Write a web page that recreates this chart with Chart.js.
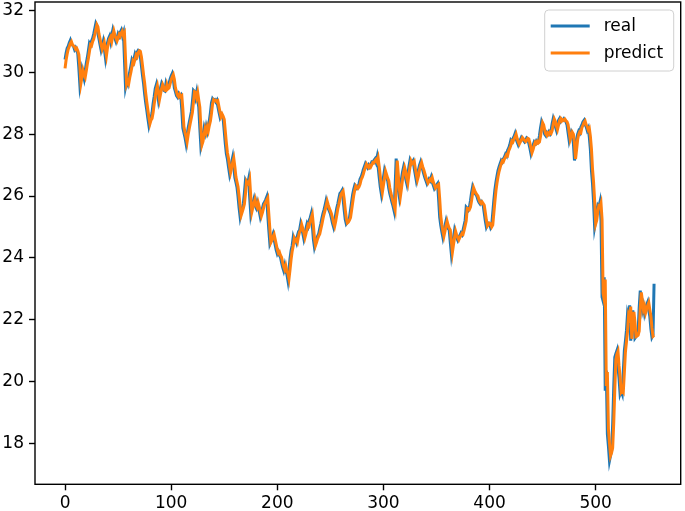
<!DOCTYPE html>
<html>
<head>
<meta charset="utf-8">
<script src="https://cdn.jsdelivr.net/npm/chart.js@4.4.1/dist/chart.umd.min.js"></script>
<style>
  body { margin: 0; background: #fff; }
  #chart { display: block; }
</style>
</head>
<body>
<canvas id="chart" width="685" height="511"></canvas>
<script>
// values, one per day
var real = [
  30.42, 30.63, 30.78, 30.85, 30.96, 31.04, 30.92, 30.88, 30.85, 30.74,
  30.80, 30.72, 30.61, 30.15, 29.59, 29.82, 30.10, 29.95, 29.80, 30.05,
  30.29, 30.48, 30.70, 30.94, 30.88, 31.02, 31.10, 31.24, 31.41, 31.58,
  31.50, 31.25, 31.08, 30.90, 30.72, 30.85, 31.00, 30.78, 30.50, 30.80,
  30.96, 31.10, 31.18, 31.00, 31.20, 31.37, 31.22, 31.10, 31.00, 31.12,
  31.25, 31.18, 31.30, 31.37, 31.20, 31.30, 30.40, 29.53, 29.70, 29.62,
  29.85, 30.02, 30.20, 30.40, 30.32, 30.45, 30.60, 30.52, 30.66, 30.72,
  30.70, 30.50, 30.21, 29.90, 29.64, 29.30, 29.02, 28.78, 28.52, 28.29,
  28.45, 28.50, 28.70, 29.00, 29.22, 29.48, 29.60, 29.35, 29.10, 29.30,
  29.50, 29.64, 29.55, 29.42, 29.40, 29.62, 29.48, 29.50, 29.65, 29.78,
  29.88, 29.96, 29.80, 29.50, 29.38, 29.25, 29.20, 29.30, 29.22, 29.26,
  28.80, 28.20, 28.05, 27.90, 27.70, 27.98, 28.20, 28.38, 28.55, 28.72,
  29.05, 29.42, 29.38, 29.20, 29.37, 29.10, 28.88, 28.20, 27.60, 27.75,
  27.98, 28.20, 28.05, 28.25, 28.10, 28.30, 28.45, 28.70, 29.02, 29.15,
  29.10, 29.12, 29.05, 29.10, 28.90, 28.72, 28.56, 28.66, 28.60, 28.50,
  28.10, 27.70, 27.37, 27.20, 26.95, 26.72, 26.90, 27.10, 27.26, 26.95,
  26.60, 26.45, 26.29, 25.98, 25.62, 25.32, 25.48, 25.60, 25.75, 26.10,
  26.50, 26.42, 26.38, 26.55, 25.95, 25.43, 25.62, 25.78, 25.91, 25.70,
  25.62, 25.80, 25.66, 25.50, 25.32, 25.45, 25.60, 25.75, 25.80, 25.88,
  25.97, 25.40, 24.90, 24.46, 24.55, 24.68, 24.78, 24.60, 24.42, 24.25,
  24.13, 24.20, 24.08, 24.02, 23.85, 23.70, 23.59, 23.75, 23.55, 23.48,
  23.27, 23.62, 23.98, 24.24, 24.40, 24.67, 24.55, 24.60, 24.50, 24.72,
  24.85, 24.90, 25.10, 24.95, 24.80, 24.62, 24.78, 24.95, 25.10, 25.02,
  25.20, 25.30, 25.43, 25.05, 24.60, 24.35, 24.48, 24.62, 24.70, 24.78,
  24.95, 25.10, 25.28, 25.43, 25.55, 25.70, 25.86, 25.72, 25.60, 25.52,
  25.43, 25.28, 25.12, 25.00, 25.18, 25.40, 25.60, 25.75, 25.92, 26.08,
  26.12, 26.18, 25.90, 25.55, 25.25, 25.10, 25.15, 25.22, 25.30, 25.55,
  25.80, 26.05, 26.22, 26.35, 26.30, 26.25, 26.30, 26.40, 26.55, 26.62,
  26.72, 26.85, 26.95, 27.05, 26.98, 26.92, 27.00, 26.94, 27.02, 27.10,
  27.08, 27.15, 27.20, 27.10, 27.26, 26.95, 26.61, 26.30, 26.08, 26.35,
  26.60, 26.83, 26.70, 26.58, 26.50, 26.25, 26.08, 25.95, 25.80, 25.68,
  25.53, 26.30, 27.21, 26.70, 26.20, 25.97, 26.25, 26.55, 26.78, 26.94,
  26.80, 26.55, 26.40, 26.70, 26.95, 27.15, 27.05, 27.10, 27.15, 26.90,
  26.70, 26.50, 26.65, 26.85, 27.00, 27.10, 26.95, 26.85, 26.72, 26.60,
  26.50, 26.40, 26.48, 26.55, 26.50, 26.61, 26.45, 26.35, 26.24, 26.30,
  26.35, 26.40, 25.90, 25.32, 25.05, 24.85, 24.67, 24.85, 25.05, 25.20,
  25.05, 24.95, 24.90, 24.50, 24.13, 24.40, 24.65, 24.89, 24.75, 24.65,
  24.57, 24.66, 24.72, 24.80, 24.75, 24.90, 25.05, 25.21, 25.64, 25.60,
  25.55, 25.64, 25.85, 26.10, 26.29, 26.18, 26.10, 26.05, 26.00, 25.88,
  25.80, 25.75, 25.82, 25.76, 25.70, 25.45, 25.20, 25.00, 25.08, 25.12,
  25.10, 24.98, 25.05, 25.45, 25.85, 26.20, 26.45, 26.65, 26.83, 26.95,
  27.05, 27.15, 27.10, 27.20, 27.26, 27.35, 27.30, 27.48, 27.55, 27.65,
  27.80, 27.75, 27.85, 27.92, 28.02, 27.85, 27.75, 27.66, 27.75, 27.82,
  27.90, 27.85, 27.80, 27.75, 27.80, 27.88, 27.85, 27.70, 27.55, 27.37,
  27.50, 27.65, 27.75, 27.70, 27.78, 27.72, 27.75, 27.95, 28.20, 28.40,
  28.30, 28.12, 28.00, 27.95, 28.05, 28.00, 28.08, 28.02, 28.13, 28.35,
  28.51, 28.40, 28.25, 28.13, 28.30, 28.45, 28.51, 28.42, 28.48, 28.45,
  28.50, 28.44, 28.40, 28.30, 28.05, 27.80, 27.95, 28.08, 28.00, 27.70,
  27.15, 27.50, 27.85, 28.00, 28.10, 28.05, 28.23, 28.30, 28.40, 28.45,
  28.30, 28.25, 28.13, 28.20, 27.91, 27.50, 26.83, 26.40, 25.80, 25.00,
  25.20, 25.53, 25.70, 25.65, 25.80, 25.21, 22.73, 22.60, 23.37, 19.70,
  20.35, 18.30, 17.90, 17.43, 17.60, 17.76, 18.62, 19.80, 20.78, 20.90,
  21.00, 20.46, 20.10, 19.60, 19.70, 19.60, 20.30, 21.00, 21.30, 21.65,
  22.19, 22.05, 22.46, 21.32, 21.80, 22.30, 21.90, 21.40, 21.45, 21.50,
  21.65, 22.40, 22.94, 22.60, 22.30, 22.45, 22.20, 22.35, 22.48, 22.57,
  22.30, 22.10, 21.70, 21.43, 21.50, 23.16
];

var predict = [
  30.13, 30.40, 30.60, 30.75, 30.84, 30.94, 31.00, 30.90, 30.86, 30.83,
  30.75, 30.78, 30.70, 30.58, 30.18, 29.65, 29.85, 30.06, 29.93, 29.84,
  30.05, 30.27, 30.46, 30.68, 30.90, 30.87, 31.00, 31.08, 31.22, 31.38,
  31.54, 31.47, 31.24, 31.08, 30.90, 30.75, 30.85, 30.97, 30.76, 30.54,
  30.80, 30.95, 31.08, 31.15, 31.00, 31.18, 31.34, 31.20, 31.10, 31.02,
  31.12, 31.23, 31.17, 31.28, 31.34, 31.20, 31.27, 30.45, 29.62, 29.72,
  29.64, 29.84, 30.00, 30.18, 30.37, 30.31, 30.44, 30.57, 30.51, 30.64,
  30.70, 30.68, 30.50, 30.22, 29.92, 29.66, 29.33, 29.05, 28.80, 28.55,
  28.34, 28.46, 28.51, 28.70, 28.98, 29.20, 29.45, 29.57, 29.35, 29.12,
  29.30, 29.48, 29.61, 29.53, 29.42, 29.41, 29.60, 29.47, 29.50, 29.63,
  29.76, 29.86, 29.93, 29.78, 29.51, 29.38, 29.26, 29.21, 29.29, 29.22,
  29.25, 28.82, 28.25, 28.07, 27.92, 27.75, 27.98, 28.18, 28.36, 28.53,
  28.70, 29.03, 29.38, 29.36, 29.20, 29.35, 29.10, 28.88, 28.22, 27.66,
  27.77, 27.98, 28.18, 28.06, 28.23, 28.11, 28.29, 28.43, 28.68, 28.98,
  29.12, 29.09, 29.10, 29.05, 29.08, 28.90, 28.72, 28.57, 28.65, 28.58,
  28.48, 28.10, 27.72, 27.40, 27.22, 26.97, 26.76, 26.91, 27.09, 27.22,
  26.95, 26.62, 26.46, 26.30, 26.00, 25.66, 25.38, 25.49, 25.60, 25.74,
  26.07, 26.47, 26.41, 26.38, 26.52, 25.97, 25.48, 25.63, 25.77, 25.89,
  25.70, 25.63, 25.78, 25.65, 25.50, 25.35, 25.46, 25.60, 25.73, 25.79,
  25.87, 25.94, 25.42, 24.93, 24.50, 24.57, 24.68, 24.76, 24.60, 24.44,
  24.27, 24.15, 24.19, 24.08, 24.02, 23.86, 23.72, 23.62, 23.74, 23.56,
  23.50, 23.32, 23.62, 23.95, 24.21, 24.38, 24.63, 24.55, 24.59, 24.51,
  24.70, 24.84, 24.89, 25.07, 24.95, 24.81, 24.65, 24.78, 24.93, 25.07,
  25.03, 25.18, 25.29, 25.40, 25.06, 24.64, 24.40, 24.50, 24.62, 24.70,
  24.77, 24.93, 25.08, 25.26, 25.41, 25.54, 25.68, 25.83, 25.71, 25.60,
  25.52, 25.43, 25.29, 25.13, 25.02, 25.18, 25.38, 25.58, 25.73, 25.90,
  26.05, 26.11, 26.16, 25.91, 25.57, 25.28, 25.13, 25.16, 25.22, 25.30,
  25.54, 25.78, 26.02, 26.20, 26.33, 26.29, 26.25, 26.30, 26.39, 26.53,
  26.60, 26.70, 26.83, 26.93, 27.03, 26.97, 26.92, 26.99, 26.94, 27.01,
  27.08, 27.07, 27.14, 27.18, 27.11, 27.23, 26.96, 26.65, 26.33, 26.12,
  26.35, 26.58, 26.80, 26.69, 26.58, 26.50, 26.27, 26.10, 25.96, 25.82,
  25.69, 25.56, 26.28, 27.15, 26.70, 26.22, 25.99, 26.24, 26.53, 26.76,
  26.92, 26.79, 26.56, 26.42, 26.69, 26.93, 27.13, 27.05, 27.09, 27.13,
  26.90, 26.70, 26.52, 26.65, 26.84, 26.98, 27.08, 26.95, 26.85, 26.73,
  26.61, 26.51, 26.42, 26.48, 26.54, 26.50, 26.59, 26.45, 26.36, 26.26,
  26.31, 26.35, 26.38, 25.92, 25.36, 25.08, 24.87, 24.70, 24.86, 25.04,
  25.18, 25.05, 24.96, 24.90, 24.53, 24.18, 24.42, 24.65, 24.86, 24.74,
  24.65, 24.58, 24.66, 24.72, 24.79, 24.76, 24.89, 25.04, 25.20, 25.60,
  25.59, 25.56, 25.64, 25.84, 26.08, 26.27, 26.18, 26.10, 26.05, 26.00,
  25.89, 25.80, 25.76, 25.81, 25.76, 25.70, 25.47, 25.22, 25.03, 25.08,
  25.12, 25.10, 25.00, 25.06, 25.43, 25.82, 26.17, 26.42, 26.63, 26.80,
  26.93, 27.04, 27.14, 27.11, 27.20, 27.26, 27.34, 27.31, 27.46, 27.54,
  27.63, 27.78, 27.75, 27.84, 27.91, 28.00, 27.86, 27.76, 27.68, 27.75,
  27.81, 27.89, 27.85, 27.80, 27.76, 27.80, 27.87, 27.85, 27.71, 27.56,
  27.40, 27.50, 27.64, 27.74, 27.70, 27.77, 27.72, 27.75, 27.93, 28.18,
  28.37, 28.30, 28.13, 28.01, 27.96, 28.04, 28.00, 28.07, 28.03, 28.12,
  28.33, 28.49, 28.41, 28.26, 28.15, 28.30, 28.44, 28.50, 28.43, 28.47,
  28.45, 28.49, 28.44, 28.40, 28.31, 28.07, 27.83, 27.94, 28.06, 28.00,
  27.73, 27.20, 27.50, 27.83, 27.99, 28.08, 28.05, 28.21, 28.29, 28.38,
  28.43, 28.31, 28.25, 28.14, 28.19, 27.93, 27.53, 26.88, 26.45, 25.85,
  25.10, 25.22, 25.50, 25.68, 25.65, 25.77, 25.25, 22.85, 22.65, 23.30,
  19.85, 20.30, 18.45, 18.00, 17.60, 17.70, 17.85, 18.65, 19.75, 20.70,
  20.88, 20.97, 20.50, 20.15, 19.65, 19.70, 19.65, 20.28, 20.95, 21.28,
  21.62, 22.15, 22.05, 22.42, 21.38, 21.78, 22.25, 21.92, 21.45, 21.47,
  21.50, 21.63, 22.36, 22.88, 22.60, 22.32, 22.43, 22.22, 22.34, 22.46,
  22.55, 22.32, 22.12, 21.73, 21.46, 21.49
];

var days = Array.from({ length: real.length }, function (v, i) { return i; });
var xTicks = [0, 100, 200, 300, 400, 500];
var yTicks = [18, 20, 22, 24, 26, 28, 30, 32];

var tickFont = { family: 'DejaVu Sans', size: 17 };

// full box round the plot, like matplotlib spines
var frame = {
  id: 'frame',
  afterDatasetsDraw: function (chart) {
    var a = chart.chartArea, c = chart.ctx;
    c.save();
    c.strokeStyle = '#000';
    c.lineWidth = 1.4;
    c.strokeRect(a.left, a.top, a.right - a.left, a.bottom - a.top);
    c.restore();
  }
};

// legend box in the upper right corner
var boxLegend = {
  id: 'boxLegend',
  afterDraw: function (chart) {
    var a = chart.chartArea, c = chart.ctx;
    var w = 129, h = 61;
    var x = a.right - 7 - w, y = a.top + 8;
    c.save();
    c.beginPath();
    c.roundRect(x, y, w, h, 4);
    c.fillStyle = 'rgba(255,255,255,0.8)';
    c.fill();
    c.strokeStyle = '#d0d0d0';
    c.lineWidth = 1;
    c.stroke();
    c.font = '17px "DejaVu Sans"';
    c.textBaseline = 'middle';
    chart.data.datasets.forEach(function (ds, k) {
      var ly = y + 16 + k * 27;
      c.strokeStyle = ds.borderColor;
      c.lineWidth = 2.8;
      c.beginPath();
      c.moveTo(x + 6, ly);
      c.lineTo(x + 45, ly);
      c.stroke();
      c.fillStyle = '#000';
      c.fillText(ds.label, x + 59, ly + 1);
    });
    c.restore();
  }
};

function noPadding(s) {
  s.paddingTop = 0; s.paddingBottom = 0; s.paddingLeft = 0; s.paddingRight = 0;
}

var ctx = document.getElementById('chart').getContext('2d');
var myChart = new Chart(ctx, {
  type: 'line',
  data: {
    labels: days,
    datasets: [
      { label: 'real', data: real, borderColor: '#1f77b4', borderWidth: 3, pointRadius: 0, tension: 0, fill: false, order: 2 },
      { label: 'predict', data: predict, borderColor: '#ff7f0e', borderWidth: 3, pointRadius: 0, tension: 0, fill: false, order: 1 }
    ]
  },
  options: {
    responsive: false,
    animation: false,
    devicePixelRatio: 1,
    layout: { padding: { top: 2, right: 4.3, left: 0, bottom: 0 } },
    plugins: { legend: { display: false }, tooltip: { enabled: false } },
    scales: {
      x: {
        type: 'linear',
        min: -28.3,
        max: 580.1,
        afterBuildTicks: function (s) { s.ticks = xTicks.map(function (v) { return { value: v }; }); },
        afterFit: function (s) { s.height = 26.7; noPadding(s); },
        ticks: { font: tickFont, color: '#000', padding: 3, maxRotation: 0, autoSkip: false },
        grid: { drawOnChartArea: false, drawTicks: true, tickLength: 6, tickWidth: 1.4, tickColor: '#000' },
        border: { display: false }
      },
      y: {
        min: 16.67,
        max: 32.28,
        afterBuildTicks: function (s) { s.ticks = yTicks.map(function (v) { return { value: v }; }); },
        afterFit: function (s) { s.width = 35; noPadding(s); },
        ticks: { font: tickFont, color: '#000', padding: 5, autoSkip: false },
        grid: { drawOnChartArea: false, drawTicks: true, tickLength: 6, tickWidth: 1.4, tickColor: '#000' },
        border: { display: false }
      }
    }
  },
  plugins: [frame, boxLegend]
});
</script>
</body>
</html>
